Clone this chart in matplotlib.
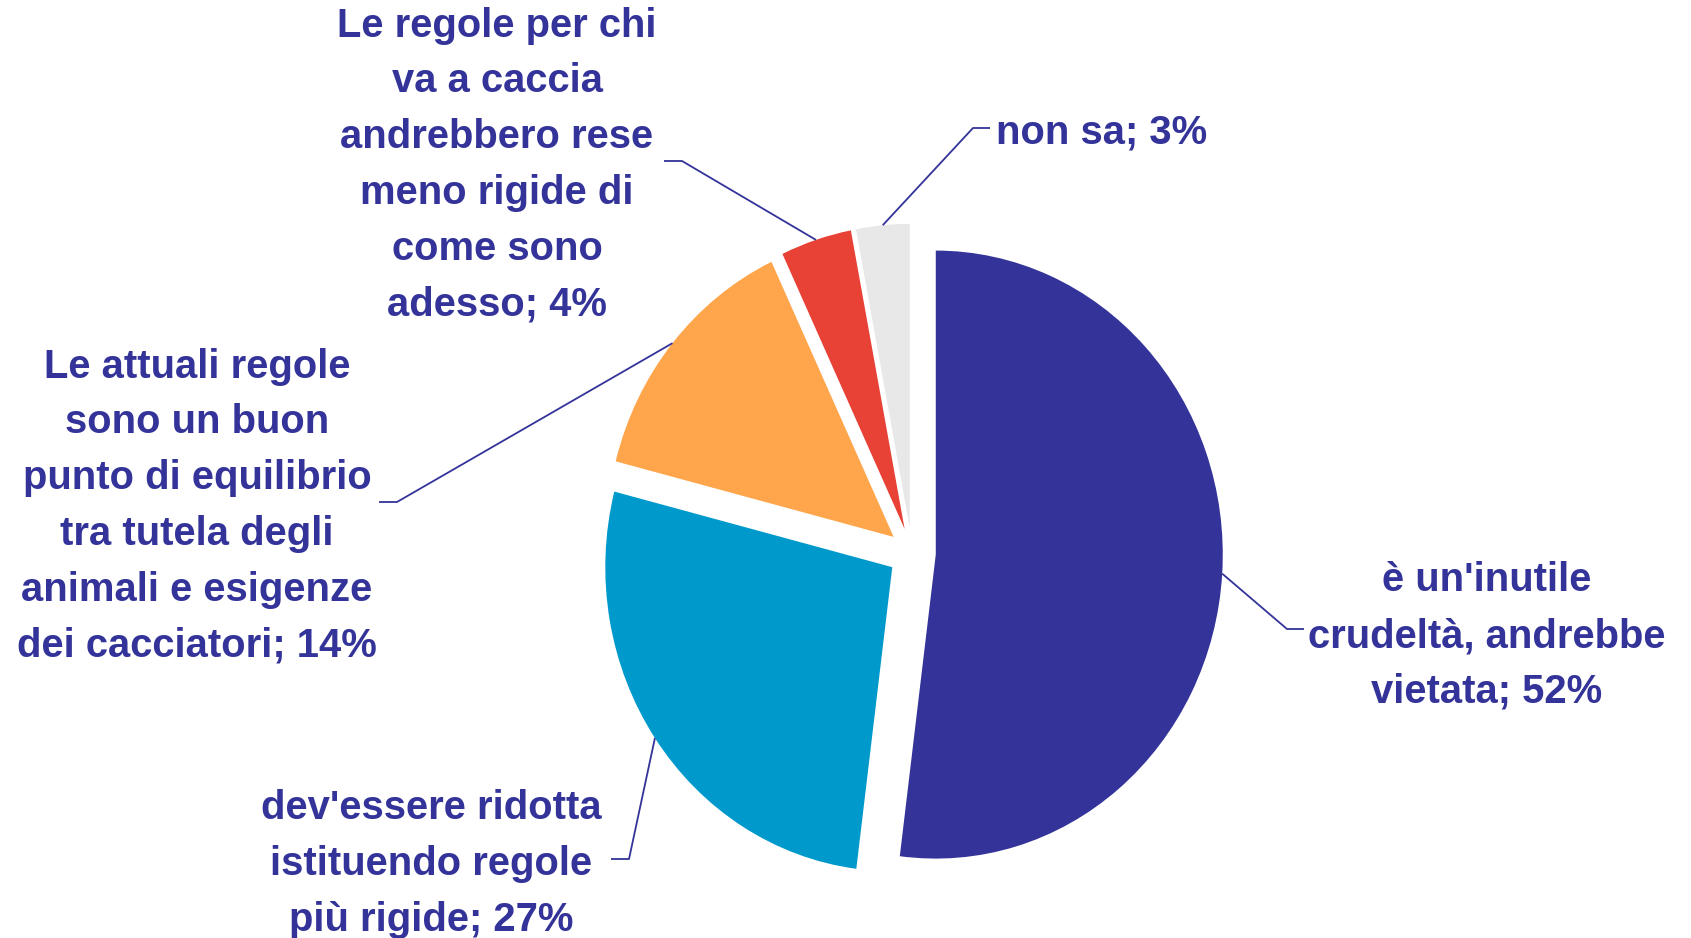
import numpy as np
import matplotlib.pyplot as plt

# Data
labels = [
    "è un'inutile\ncrudeltà, andrebbe\nvietata; 52%",
    "dev'essere ridotta\nistituendo regole\npiù rigide; 27%",
    "Le attuali regole\nsono un buon\npunto di equilibrio\ntra tutela degli\nanimali e esigenze\ndei cacciatori; 14%",
    "Le regole per chi\nva a caccia\nandrebbero rese\nmeno rigide di\ncome sono\nadesso; 4%",
    "non sa; 3%",
]
values = [52, 27, 14, 4, 3]
colors = ['#333399', '#0099CC', '#FFA54B', '#E84135', '#E8E8E8']

TEXT_COLOR = '#333399'
W, H = 1691, 938

# pie centre and radii in pixels (the original picture is slightly stretched vertically)
cx, cy = 912, 553
rx, ry = 287, 304


def px(x, y):
    return (x - cx) / rx, (cy - y) / ry


# label placement: text centre, elbow and end of the leader line (pixels)
label_pos = [(1487, 636), (431, 864), (197, 506), (497, 165), (996, 133)]
label_ha = ['center', 'center', 'center', 'center', 'left']
elbows = [(1287, 629), (629, 859), (397, 502), (682, 161), (973, 128)]
ends = [(1304, 629), (611, 859), (379, 502), (664, 161), (990, 128)]

fig = plt.figure(figsize=(W / 100, H / 100), dpi=100)
ax = fig.add_axes([0, 0, 1, 1])

wedges, _ = ax.pie(values, colors=colors, startangle=90, counterclock=False,
                   explode=[0.083] * len(values), radius=1,
                   wedgeprops=dict(linewidth=0))

ax.set_aspect('auto')
ax.set_xlim(-cx / rx, (W - cx) / rx)
ax.set_ylim((cy - H) / ry, cy / ry)
ax.axis('off')

for w, lab, pos, ha, el, en in zip(wedges, labels, label_pos, label_ha, elbows, ends):
    mid = np.deg2rad((w.theta1 + w.theta2) / 2)
    sx = w.center[0] + w.r * np.cos(mid)
    sy = w.center[1] + w.r * np.sin(mid)
    ex, ey = px(*el)
    nx, ny = px(*en)
    ax.plot([sx, ex, nx], [sy, ey, ny], color=TEXT_COLOR, lw=1.3, solid_capstyle='butt')
    tx, ty = px(*pos)
    ax.text(tx, ty, lab, ha=ha, va='center', multialignment='center',
            fontsize=28.8, fontweight='bold', family='Liberation Sans',
            color=TEXT_COLOR, linespacing=1.59)

fig.savefig('out.png', dpi=100, facecolor='white')
